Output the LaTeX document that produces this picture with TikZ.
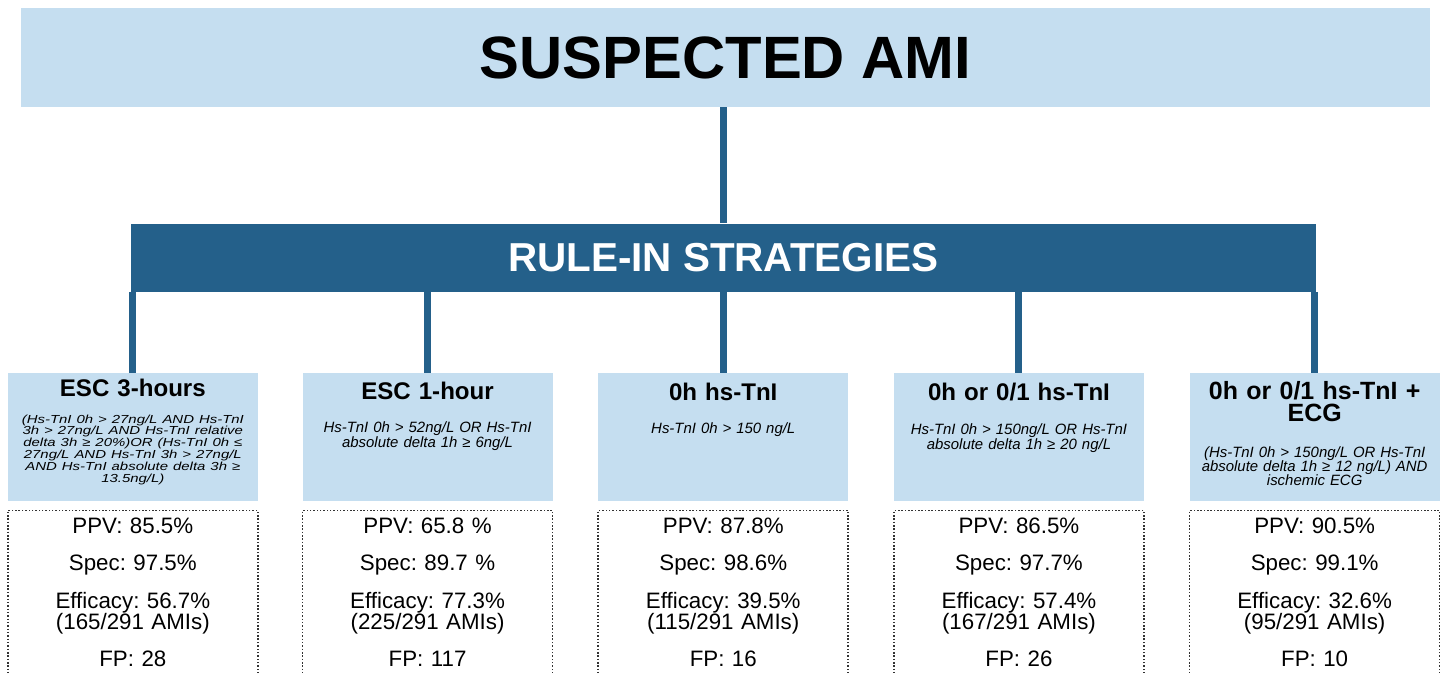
\documentclass[tikz,border=0pt]{standalone}
\usepackage{fontspec}
\setmainfont{Liberation Sans}
\usetikzlibrary{positioning}

\definecolor{boxblue}{RGB}{197,222,240}
\definecolor{barblue}{RGB}{36,96,138}

\frenchspacing

\begin{document}
\begin{tikzpicture}
[font=\fontsize{8.5}{9.5}\selectfont,
% STYLES
% The banner style is used for the question on top
banner/.style={rectangle, fill=boxblue, inner sep=0pt, minimum width=28.18cm, minimum height=1.98cm, font=\fontsize{34}{40}\selectfont\bfseries},
% The dark bar groups all strategies
rulebar/.style={rectangle, fill=barblue, inner sep=0pt, minimum width=23.71cm, minimum height=1.36cm, text=white, font=\fontsize{23}{27}\selectfont\bfseries},
% Define styles for each strategy box and its texts
strategy/.style={rectangle, fill=boxblue, inner sep=0pt, minimum width=5cm, minimum height=2.56cm},
head/.style={anchor=base, text width=4.9cm, align=center, inner sep=0pt, font=\fontsize{13.7}{13}\selectfont\bfseries},
crit/.style={anchor=base, text width=4.9cm, align=center, inner sep=0pt, font=\fontsize{8.5}{9}\selectfont\itshape},
% The results style is the dotted frame below each strategy
results/.style={rectangle, draw=black!80, line width=0.9pt, dash pattern=on 0.9pt off 1pt, inner sep=0pt, minimum width=5cm, minimum height=3.6cm},
stats/.style={anchor=base, text width=4.9cm, align=center, inner sep=0pt, font=\fontsize{12.7}{12}\selectfont},
link/.style={draw=barblue, line width=0.14cm}]

\useasboundingbox (0,0) rectangle (28.84,-13.44);
\clip (0,0) rectangle (28.84,-13.44);

% Draw boxes
\node [banner] (title) at (14.51,-1.15) {SUSPECTED AMI};
\node [rulebar, below=2.32cm of title, xshift=-0.045cm] (rulein) {RULE-IN STRATEGIES};

\node [strategy, below=1.62cm of rulein] (s3) {};
\node [strategy, left=0.9cm of s3] (s2) {};
\node [strategy, left=0.88cm of s2] (s1) {};
\node [strategy, right=0.9cm of s3] (s4) {};
\node [strategy, right=0.9cm of s4] (s5) {};

%%%%%%%%%%%%%%%

% ESC 3-hours (squeezed text)
\node [head] (h1) at ([yshift=-0.46cm]s1.north) {ESC 3-hours};
\node [crit, yscale=0.78, transform shape, font=\fontsize{8.5}{8.6}\selectfont\itshape\lineskiplimit-20pt\lineskip0pt] (c1) at ([yshift=-0.54cm]h1.base) {(Hs-TnI 0h > 27ng/L AND Hs-TnI\\
3h > 27ng/L AND Hs-TnI relative\\
delta 3h ≥ 20\%)OR (Hs-TnI 0h ≤\\
27ng/L AND Hs-TnI 3h > 27ng/L\\
AND Hs-TnI absolute delta 3h ≥\\
13.5ng/L)};

% ESC 1-hour
\node [head] (h2) at ([yshift=-0.52cm]s2.north) {ESC 1-hour};
\node [crit] (c2) at ([yshift=-0.66cm]h2.base) {Hs-TnI 0h > 52ng/L OR Hs-TnI\\
absolute delta 1h ≥ 6ng/L};

% 0h
\node [head] (h3) at ([yshift=-0.54cm]s3.north) {0h hs-TnI};
\node [crit] (c3) at ([yshift=-0.66cm]h3.base) {Hs-TnI 0h > 150 ng/L};

% 0h or 0/1
\node [head] (h4) at ([yshift=-0.54cm]s4.north) {0h or 0/1 hs-TnI};
\node [crit] (c4) at ([yshift=-0.68cm]h4.base) {Hs-TnI 0h > 150ng/L OR Hs-TnI\\
absolute delta 1h ≥ 20 ng/L};

% 0h or 0/1 + ECG
\node [head, font=\fontsize{14.2}{13}\selectfont\bfseries] (h5) at ([yshift=-0.52cm]s5.north) {0h or 0/1 hs-TnI +\\
ECG};
\node [crit, font=\fontsize{8.5}{8}\selectfont\itshape] (c5) at ([yshift=-1.17cm]h5.base) {(Hs-TnI 0h > 150ng/L OR Hs-TnI\\
absolute delta 1h ≥ 12 ng/L) AND\\
ischemic ECG};

%%%%%%%%%%%%%%%

% results
\node [results, below=0.16cm of s1] (r1) {};
\node [results, below=0.16cm of s2] (r2) {};
\node [results, below=0.16cm of s3] (r3) {};
\node [results, below=0.16cm of s4] (r4) {};
\node [results, below=0.16cm of s5] (r5) {};

\node [stats] (t1) at ([yshift=-0.48cm]r1.north) {PPV: 85.5\%\\[9pt]
Spec: 97.5\%\\[9.4pt]
Efficacy: 56.7\%\\
(165/291 AMIs)\\[9.4pt]
FP: 28};

\node [stats] (t2) at ([yshift=-0.48cm]r2.north) {PPV: 65.8 \%\\[9pt]
Spec: 89.7 \%\\[9.4pt]
Efficacy: 77.3\%\\
(225/291 AMIs)\\[9.4pt]
FP: 117};

\node [stats] (t3) at ([yshift=-0.48cm]r3.north) {PPV: 87.8\%\\[9pt]
Spec: 98.6\%\\[9.4pt]
Efficacy: 39.5\%\\
(115/291 AMIs)\\[9.4pt]
FP: 16};

\node [stats] (t4) at ([yshift=-0.48cm]r4.north) {PPV: 86.5\%\\[9pt]
Spec: 97.7\%\\[9.4pt]
Efficacy: 57.4\%\\
(167/291 AMIs)\\[9.4pt]
FP: 26};

\node [stats] (t5) at ([yshift=-0.48cm]r5.north) {PPV: 90.5\%\\[9pt]
Spec: 99.1\%\\[9.4pt]
Efficacy: 32.6\%\\
(95/291 AMIs)\\[9.4pt]
FP: 10};

%%%%%%%%%%%%%%%%

\path [link]
(title.south -| rulein.north) edge (rulein.north)
(rulein.south -| s1.north) edge (s1.north)
(rulein.south -| s2.north) edge (s2.north)
(rulein.south -| s3.north) edge (s3.north)
(rulein.south -| s4.north) edge (s4.north)
(rulein.south -| s5.north) edge (s5.north);

\end{tikzpicture}
\end{document}
